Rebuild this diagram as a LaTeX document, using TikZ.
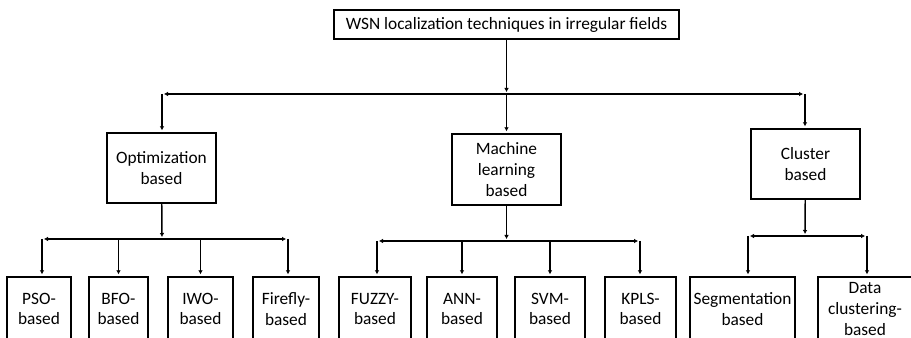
\documentclass[tikz,border=0pt]{standalone}
\usepackage{fontspec}
\setmainfont{Carlito}
\usetikzlibrary{arrows.meta}
\begin{document}
\begin{tikzpicture}[x=0.75pt,y=-0.75pt,
  box/.style={draw,line width=1.1pt,align=center,inner sep=1pt,font=\fontsize{13}{15.5}\selectfont},
  leaf/.style={box,minimum height=48pt},
  tip/.style={line width=1.1pt,shorten >=1.5pt,-{Latex[length=3pt,width=3.5pt]}}]
\useasboundingbox (0,0) rectangle (911,338);
\clip (0,0) rectangle (911,338);

\node[box,minimum width=258.75pt,minimum height=21.75pt] (wsn) at (506.5,24.5) {WSN localization techniques in irregular fields};

\node[box,minimum width=81.75pt,minimum height=52.5pt] (opt) at (161.5,168) {Optimization\\based};
\node[box,minimum width=81.75pt,minimum height=53.25pt] (ml) at (506.5,169.5) {Machine\\learning\\based};
\node[box,minimum width=81.75pt,minimum height=52.5pt] (cl) at (805.5,164) {Cluster\\based};

\node[leaf,minimum width=48pt] (pso) at (39,309) {PSO-\\based};
\node[leaf,minimum width=44.25pt] (bfo) at (118.5,309) {BFO-\\based};
\node[leaf,minimum width=48.75pt] (iwo) at (200.5,309) {IWO-\\based};
\node[leaf,minimum width=49.5pt] (ffly) at (286,309) {Firefly-\\based};
\node[leaf,minimum width=54pt] (fuzzy) at (375,309) {FUZZY-\\based};
\node[leaf,minimum width=52.5pt] (ann) at (462,309) {ANN-\\based};
\node[leaf,minimum width=52.5pt] (svm) at (550,309) {SVM-\\based};
\node[leaf,minimum width=53.25pt] (kpls) at (640.5,309) {KPLS-\\based};
\node[leaf,minimum width=78.75pt] (seg) at (742.5,309) {Segmentation\\based};
\node[leaf,minimum width=70.5pt] (data) at (865,309) {Data\\clustering-\\based};

\coordinate (j0) at (506.5,94);
\coordinate (jl) at (162,94);
\coordinate (jr) at (805,94);
\draw[tip] (wsn) -- (j0);
\draw[tip] (j0) -- (jl);
\draw[tip] (jl) -- (jl |- opt.north);
\draw[tip] (j0) -- (j0 |- ml.north);
\draw[tip] (j0) -- (jr);
\draw[tip] (jr) -- (jr |- cl.north);

\coordinate (j1) at (162,239);
\coordinate (o1) at (42,239);
\coordinate (o4) at (288,239);
\draw[tip] (opt) -- (j1);
\draw[tip] (j1) -- (o1);
\draw[tip] (o1) -- (o1 |- pso.north);
\draw[tip] (bfo.north |- j1) -- (bfo);
\draw[tip] (iwo.north |- j1) -- (iwo);
\draw[tip] (j1) -- (o4);
\draw[tip] (o4) -- (o4 |- ffly.north);

\coordinate (j2) at (506.5,241);
\coordinate (m1) at (377,241);
\coordinate (m4) at (640,241);
\draw[tip] (ml) -- (j2);
\draw[tip] (j2) -- (m1);
\draw[tip] (m1) -- (m1 |- fuzzy.north);
\draw[tip] (ann.north |- j2) -- (ann);
\draw[tip] (svm.north |- j2) -- (svm);
\draw[tip] (j2) -- (m4);
\draw[tip] (m4) -- (m4 |- kpls.north);

\coordinate (j3) at (805,236);
\coordinate (c1) at (748,236);
\coordinate (c2) at (867,236);
\draw[tip] (cl) -- (j3);
\draw[tip] (j3) -- (c1);
\draw[tip] (c1) -- (c1 |- seg.north);
\draw[tip] (j3) -- (c2);
\draw[tip] (c2) -- (c2 |- data.north);
\end{tikzpicture}
\end{document}
